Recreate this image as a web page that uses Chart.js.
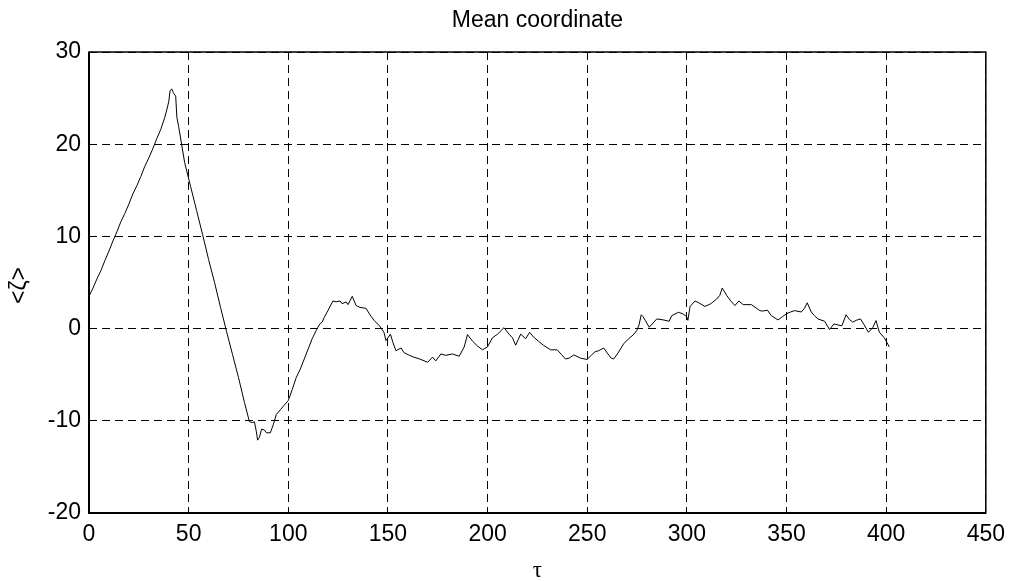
<!DOCTYPE html>
<html>
<head>
<meta charset="utf-8">
<script src="https://cdn.jsdelivr.net/npm/chart.js@4/dist/chart.umd.min.js"></script>
<style>
  html, body { margin: 0; padding: 0; background: #fff; }
  #wrap { width: 1013px; height: 581px; }
</style>
</head>
<body>
<div id="wrap"><canvas id="c" width="1013" height="581"></canvas></div>
<script>
// Time axis (tau) and mean coordinate <zeta> along the trajectory
const tau = [
  0, 2, 4, 6, 8, 10, 12, 14, 16, 18, 20, 22, 24, 26, 28, 30, 32, 34, 36, 38, 39, 40, 40.7, 41.5, 42.3,
  43.5, 44.1, 45, 48, 51, 54, 57, 60, 63, 66, 69, 72, 75, 78, 80.5, 82, 83, 84, 84.6, 85.5, 86.6, 88, 89, 91, 92.5,
  94, 96, 98, 100, 102, 104, 106, 108, 110, 112, 114, 115.75, 117, 118, 120, 122.4, 124, 126, 127, 129, 130, 132.1,
  134, 136, 139, 141, 143, 145.75, 148, 149, 150, 151.25, 152.5, 154, 156.6, 158, 160.75, 163, 166, 169.9, 172.4,
  174, 176.6, 179, 182.4, 185.75, 188.25, 189.9, 192.4, 195, 197.4, 199.9, 202.4, 205, 208.25, 210.75, 212.5,
  214.1, 216.6, 219.1, 221.1, 223, 225.75, 228, 231.6, 234.9, 237, 239.1, 241, 243.25, 246.6, 249.9, 252, 254,
  255.75, 258.25, 260.4, 262, 263.25, 265.75, 268.25, 270.75, 273, 274.9, 276, 277.1, 278, 279.1, 281.1, 283,
  284.9, 288, 291.1, 292.4, 295.75, 298, 299.9, 300.5, 301.6, 304.1, 306, 309.1, 312, 314.9, 316.5, 317.75, 320,
  322, 324.1, 326.1, 328.25, 332.4, 336.6, 338, 340.4, 342.4, 345.75, 348, 349.9, 352, 354.1, 357.4, 359, 360.4,
  362.4, 364, 365.75, 369.1, 371.6, 373.75, 377.75, 379.9, 381.5, 383.25, 385, 387.1, 389, 391.1, 393.25, 394.9,
  396.6, 399.1, 401.6
];
const zeta = [
  3.5, 4.4, 5.4, 6.3, 7.4, 8.4, 9.5, 10.5, 11.6, 12.5, 13.5, 14.6, 15.5, 16.5, 17.6, 18.5, 19.5, 20.6, 21.6, 22.9, 23.7, 24.6, 25.8, 26.0, 25.6,
  25.2, 22.9, 21.9, 18.0, 15.4, 12.8, 10.2, 7.5, 5.0, 2.3, -0.3, -2.8, -5.3, -8.0, -10.1, -10.2, -10.1, -11.2, -12.1, -11.8, -10.9, -11.0, -11.3, -11.3, -10.4,
  -9.3, -8.8, -8.3, -7.8, -6.6, -5.3, -4.4, -3.3, -2.2, -1.1, -0.2, 0.5, 0.7, 1.2, 2.0, 3.0, 2.9, 3.0, 2.7, 2.9, 2.6, 3.5,
  2.5, 2.3, 2.2, 1.5, 0.9, 0.3, -0.4, -1.3, -1.0, -0.6, -1.5, -2.4, -2.1, -2.6, -2.9, -3.1, -3.3, -3.65, -3.1,
  -3.5, -2.75, -2.9, -2.75, -3.0, -2.0, -0.65, -1.35, -1.9, -2.3, -2.0, -1.0, -0.6, 0.1, -0.6, -1.0,
  -1.8, -0.6, -1.1, -0.4, -0.9, -1.4, -1.8, -2.3, -2.3, -2.8, -3.3, -3.2, -2.85, -3.2, -3.35, -2.9, -2.5,
  -2.4, -2.1, -2.75, -3.2, -3.3, -2.55, -1.66, -1.1, -0.7, -0.2, 0.4, 1.5, 1.3, 0.9, 0.15, 0.6,
  1.05, 0.95, 0.8, 1.4, 1.77, 1.6, 1.3, 0.9, 2.4, 3.0, 2.8, 2.4, 2.7, 3.2, 3.6, 4.4, 3.6,
  3.0, 2.5, 3.0, 2.6, 2.6, 1.95, 1.9, 2.0, 1.4, 0.94, 1.3, 1.6, 1.8, 1.95, 1.8, 2.2, 2.8,
  1.8, 1.4, 1.05, 0.8, -0.1, 0.5, 0.3, 1.5, 1.0, 0.7, 0.9, 1.05, 0.4, -0.4, 0.1, 0.87,
  -0.4, -1.0, -2.0
];
const xTicks = [0, 50, 100, 150, 200, 250, 300, 350, 400, 450];
const yTicks = [-20, -10, 0, 10, 20, 30];

const titleText = 'Mean coordinate';
const xLabel = '\u03C4';
const yLabel = '<\u03B6>';

const points = tau.map((t, i) => ({ x: t, y: zeta[i] }));

// Frame around the plot area plus title and axis labels
const decor = {
  id: 'decor',
  afterDraw(chart) {
    const { ctx, chartArea: a } = chart;
    ctx.save();
    ctx.strokeStyle = '#000';
    ctx.setLineDash([]);
    ctx.lineWidth = 1.5;
    ctx.strokeRect(a.left, a.top, a.right - a.left, a.bottom - a.top);
    // left and bottom axis lines slightly heavier
    ctx.lineWidth = 2;
    ctx.beginPath();
    ctx.moveTo(a.left, a.top);
    ctx.lineTo(a.left, a.bottom);
    ctx.lineTo(a.right, a.bottom);
    ctx.stroke();

    ctx.fillStyle = '#000';
    ctx.textAlign = 'center';
    ctx.textBaseline = 'middle';
    ctx.font = '23px "Liberation Sans", Arial, sans-serif';
    ctx.fillText(titleText, (a.left + a.right) / 2, 21);

    ctx.font = '23px "Liberation Serif", "Times New Roman", serif';
    ctx.fillText(xLabel, (a.left + a.right) / 2, 571);

    ctx.translate(20, (a.top + a.bottom) / 2 + 3);
    ctx.rotate(-Math.PI / 2);
    ctx.font = '23px "Liberation Sans", Arial, sans-serif';
    ctx.fillText(yLabel, 0, 0);
    ctx.restore();
  }
};

new Chart(document.getElementById('c'), {
  type: 'line',
  data: {
    datasets: [{
      data: points,
      borderColor: '#000',
      borderWidth: 1,
      pointRadius: 0,
      tension: 0,
      fill: false
    }]
  },
  options: {
    responsive: false,
    animation: false,
    events: [],
    layout: { padding: { left: 0, right: 24, top: 52, bottom: 0 } },
    plugins: { legend: { display: false }, title: { display: false }, tooltip: { enabled: false } },
    scales: {
      x: {
        type: 'linear',
        min: 0, max: 450,
        afterBuildTicks(scale) { scale.ticks = xTicks.map(v => ({ value: v })); },
        afterFit(scale) { scale.height = 68; },
        ticks: {
          color: '#000',
          font: { family: '"Liberation Sans", Arial, sans-serif', size: 23 },
          padding: 8,
          maxRotation: 0,
          autoSkip: false
        },
        grid: { color: '#000', lineWidth: 1, drawTicks: false },
        border: { display: false, dash: [8, 5] }
      },
      y: {
        type: 'linear',
        min: -20, max: 30,
        afterBuildTicks(scale) { scale.ticks = yTicks.map(v => ({ value: v })); },
        afterFit(scale) { scale.width = 89; },
        ticks: {
          color: '#000',
          font: { family: '"Liberation Sans", Arial, sans-serif', size: 23 },
          padding: 8,
          autoSkip: false
        },
        grid: { color: '#000', lineWidth: 1, drawTicks: false },
        border: { display: false, dash: [8, 5] }
      }
    }
  },
  plugins: [decor]
});
</script>
</body>
</html>
